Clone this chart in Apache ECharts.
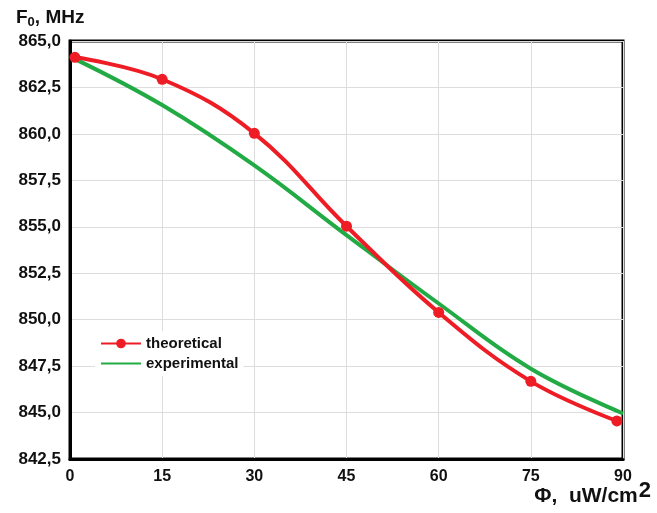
<!DOCTYPE html>
<html><head><meta charset="utf-8">
<script src="https://cdn.jsdelivr.net/npm/echarts@6/dist/echarts.min.js"></script>
<style>html,body{margin:0;padding:0;background:#fff}#c{width:657px;height:513px}</style>
</head><body><div id="c"></div>
<script>
const theoX = [0.8, 15, 30, 45, 60, 75, 89];
const theoY = [864.12, 862.94, 860.03, 855.03, 850.39, 846.68, 844.55];
const expX = [1, 15, 30, 45, 60, 75, 90];
const expY = [864.0, 861.55, 858.3, 854.55, 850.87, 847.36, 844.95];
const xTicks = [0, 15, 30, 45, 60, 75, 90];
const yMin = 842.5, yMax = 865, yStep = 2.5;

const font = '"Liberation Sans", Arial, sans-serif';
const chart = echarts.init(document.getElementById('c'));
chart.setOption({
  animation: false,
  backgroundColor: '#fff',
  title: [
    { left: 11, top: 2,
      text: 'F{sub|0}, MHz',
      textStyle: { fontFamily: font, fontWeight: 'bold', fontSize: 19, color: '#111',
        rich: { sub: { fontFamily: font, fontWeight: 'bold', fontSize: 13, verticalAlign: 'bottom', padding: [9,0,0,0], color: '#111' } } } },
    { right: 1, bottom: 1,
      text: 'Φ,  uW/cm{sup|2}',
      textStyle: { fontFamily: font, fontWeight: 'bold', fontSize: 21, color: '#111',
        rich: { sup: { fontFamily: font, fontWeight: 'bold', fontSize: 22, verticalAlign: 'top', padding: [0,0,11,1], color: '#111' } } } }
  ],
  legend: {
    left: 95, top: 331, orient: 'vertical', itemGap: 5, itemWidth: 40, itemHeight: 12,
    backgroundColor: '#fff',
    textStyle: { fontFamily: font, fontWeight: 'bold', fontSize: 15, color: '#111' },
    data: [
      { name: 'theoretical' },
      { name: 'experimental', itemStyle: { opacity: 0 } }
    ]
  },
  grid: { left: 70, right: 34, top: 41, bottom: 54, show: true, borderColor: '#000', borderWidth: 3 },
  xAxis: {
    type: 'value', min: xTicks[0], max: xTicks[xTicks.length-1], interval: 15,
    axisLine: { lineStyle: { color: '#000', width: 3 } },
    axisTick: { show: false },
    splitLine: { lineStyle: { color: '#ddd', width: 1 } },
    axisLabel: { fontFamily: font, fontWeight: 'bold', fontSize: 16, color: '#111', margin: 10 }
  },
  yAxis: {
    type: 'value', min: yMin, max: yMax, interval: yStep,
    axisLine: { show: true, lineStyle: { color: '#000', width: 3 } },
    axisTick: { show: false },
    splitLine: { lineStyle: { color: '#ddd', width: 1 } },
    axisLabel: { fontFamily: font, fontWeight: 'bold', fontSize: 17, color: '#111', margin: 9,
      formatter: v => v.toFixed(1).replace('.', ',') }
  },
  series: [
    { name: 'theoretical', type: 'line', smooth: 0.4,
      data: theoX.map((x, i) => [x, theoY[i]]),
      symbol: 'circle', symbolSize: 11, showSymbol: true,
      itemStyle: { color: '#ee1c25' }, lineStyle: { color: '#ee1c25', width: 4 }, z: 3 },
    { name: 'experimental', type: 'line', smooth: 0.4,
      data: expX.map((x, i) => [x, expY[i]]),
      symbol: 'none',
      itemStyle: { color: '#22aa44' }, lineStyle: { color: '#22aa44', width: 4 }, z: 2 }
  ]
});
</script></body></html>
